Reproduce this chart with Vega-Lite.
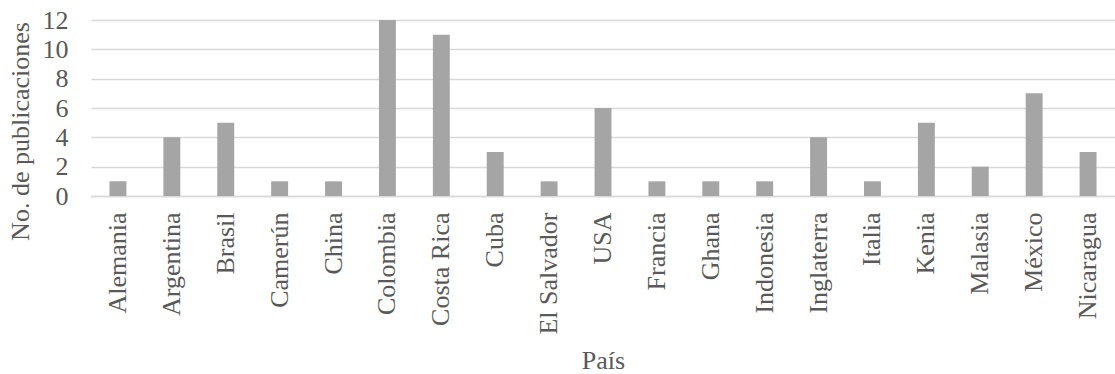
{
  "$schema": "https://vega.github.io/schema/vega-lite/v6.json",
  "autosize": "none",
  "width": 1024,
  "height": 176,
  "padding": {"left": 91, "top": 20, "right": 0, "bottom": 178},
  "background": "white",
  "config": {
    "view": {"stroke": null},
    "font": "Liberation Serif"
  },
  "data": {
    "values": [
      {"pais": "Alemania", "n": 1},
      {"pais": "Argentina", "n": 4},
      {"pais": "Brasil", "n": 5},
      {"pais": "Camerún", "n": 1},
      {"pais": "China", "n": 1},
      {"pais": "Colombia", "n": 12},
      {"pais": "Costa Rica", "n": 11},
      {"pais": "Cuba", "n": 3},
      {"pais": "El Salvador", "n": 1},
      {"pais": "USA", "n": 6},
      {"pais": "Francia", "n": 1},
      {"pais": "Ghana", "n": 1},
      {"pais": "Indonesia", "n": 1},
      {"pais": "Inglaterra", "n": 4},
      {"pais": "Italia", "n": 1},
      {"pais": "Kenia", "n": 5},
      {"pais": "Malasia", "n": 2},
      {"pais": "México", "n": 7},
      {"pais": "Nicaragua", "n": 3}
    ]
  },
  "mark": {"type": "bar", "color": "#A5A5A5"},
  "encoding": {
    "x": {
      "field": "pais",
      "type": "nominal",
      "sort": null,
      "scale": {"paddingInner": 0.686, "paddingOuter": 0.343},
      "axis": {
        "title": "País",
        "titleFont": "Liberation Serif",
        "titleFontSize": 26,
        "titleFontWeight": "normal",
        "titleColor": "#595959",
        "titleY": 172,
        "titleBaseline": "alphabetic",
        "labelAngle": -90,
        "labelFont": "Liberation Serif",
        "labelFontSize": 26,
        "labelColor": "#595959",
        "labelPadding": 16,
        "labelOverlap": false,
        "ticks": false,
        "domainColor": "#D9D9D9",
        "domainWidth": 1.5,
        "grid": false
      }
    },
    "y": {
      "field": "n",
      "type": "quantitative",
      "scale": {"domain": [0, 12], "nice": false},
      "axis": {
        "title": "No. de publicaciones",
        "titleFont": "Liberation Serif",
        "titleFontSize": 26,
        "titleFontWeight": "normal",
        "titleColor": "#595959",
        "titleX": -63,
        "titleY": 111,
        "titleBaseline": "alphabetic",
        "values": [0, 2, 4, 6, 8, 10, 12],
        "labelFont": "Liberation Serif",
        "labelFontSize": 26,
        "labelColor": "#595959",
        "labelPadding": 23,
        "labelOverlap": false,
        "ticks": false,
        "domain": false,
        "grid": true,
        "gridColor": "#D9D9D9",
        "gridWidth": 1.5
      }
    }
  }
}
